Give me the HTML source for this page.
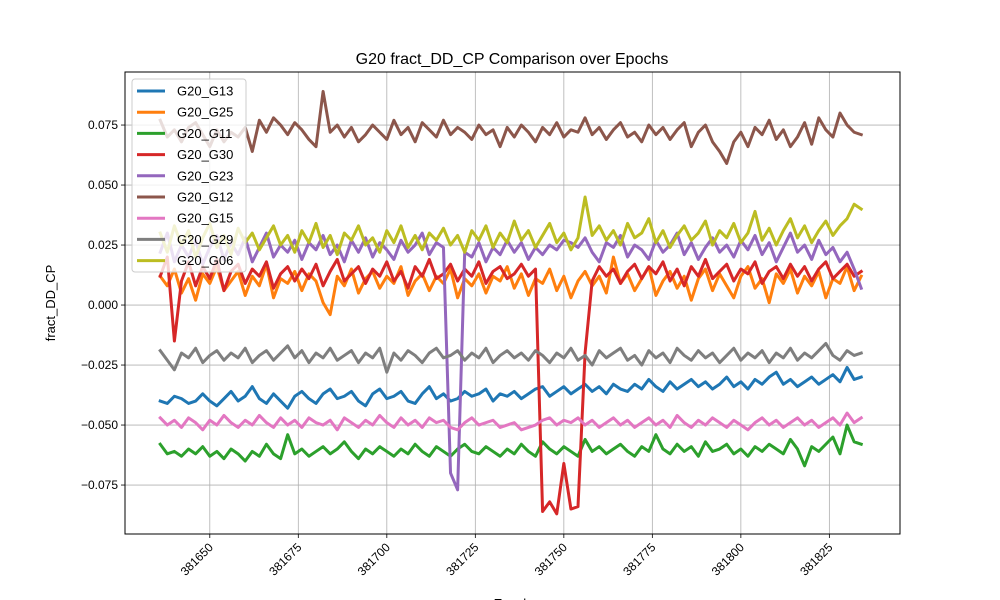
<!DOCTYPE html>
<html><head><meta charset="utf-8"><style>
html,body{margin:0;padding:0;background:#fff;}
svg{display:block;font-family:"Liberation Sans","DejaVu Sans",sans-serif;}
</style></head><body>
<svg id="chart" width="1000" height="600" viewBox="0 0 1000 600" xmlns="http://www.w3.org/2000/svg">
<rect width="1000" height="600" fill="#fff"/>
<g id="grid"></g>
<g id="series"></g>
<rect x="125" y="72" width="775" height="462" fill="none" stroke="#000" stroke-width="1"/>
<g id="xticks"></g>
<g id="yticks"></g>
<text x="512" y="64" text-anchor="middle" font-size="16">G20 fract_DD_CP Comparison over Epochs</text>
<text x="55" y="303" text-anchor="middle" font-size="13" transform="rotate(-90 55 303)">fract_DD_CP</text>
<text x="512" y="608" text-anchor="middle" font-size="13">Epoch</text>
<g id="legend"></g>
</svg>
<script>
const epochs = [381636,381638,381640,381642,381644,381646,381648,381650,381652,381654,
381656,381658,381660,381662,381664,381666,381668,381670,381672,381674,
381676,381678,381680,381682,381684,381686,381688,381690,381692,381694,
381696,381698,381700,381702,381704,381706,381708,381710,381712,381714,
381716,381718,381720,381722,381724,381726,381728,381730,381732,381734,
381736,381738,381740,381742,381744,381746,381748,381750,381752,381754,
381756,381758,381760,381762,381764,381766,381768,381770,381772,381774,
381776,381778,381780,381782,381784,381786,381788,381790,381792,381794,
381796,381798,381800,381802,381804,381806,381808,381810,381812,381814,
381816,381818,381820,381822,381824,381826,381828,381830,381832,381834];
const seriesNames = ["G20_G13","G20_G25","G20_G11","G20_G30","G20_G23","G20_G12","G20_G15","G20_G29","G20_G06"];
const xTickValues = [381650,381675,381700,381725,381750,381775,381800,381825];
const yTickValues = [-0.075,-0.050,-0.025,0.000,0.025,0.050,0.075];
const yTickLabels = ["\u22120.075","\u22120.050","\u22120.025","0.000","0.025","0.050","0.075"];
const g13 = [-0.040,-0.041,-0.038,-0.039,-0.041,-0.040,-0.037,-0.040,-0.042,-0.039,
-0.036,-0.040,-0.038,-0.034,-0.039,-0.041,-0.037,-0.040,-0.043,-0.038,
-0.036,-0.039,-0.041,-0.037,-0.035,-0.039,-0.038,-0.036,-0.040,-0.042,
-0.037,-0.035,-0.039,-0.038,-0.036,-0.040,-0.041,-0.037,-0.034,-0.039,
-0.037,-0.040,-0.039,-0.036,-0.038,-0.037,-0.035,-0.040,-0.037,-0.038,
-0.036,-0.039,-0.037,-0.035,-0.034,-0.038,-0.036,-0.034,-0.037,-0.035,
-0.033,-0.036,-0.034,-0.037,-0.033,-0.035,-0.036,-0.033,-0.035,-0.031,
-0.034,-0.036,-0.032,-0.035,-0.033,-0.031,-0.034,-0.032,-0.035,-0.033,
-0.030,-0.034,-0.032,-0.035,-0.031,-0.033,-0.030,-0.028,-0.033,-0.031,
-0.034,-0.032,-0.030,-0.033,-0.031,-0.029,-0.032,-0.026,-0.031,-0.030];
const g25 = [0.012,0.008,0.015,0.005,0.011,0.002,0.013,0.009,0.016,0.006,
0.010,0.014,0.004,0.012,0.008,0.017,0.003,0.011,0.009,0.014,
0.006,0.013,0.010,0.001,-0.004,0.012,0.008,0.015,0.005,0.011,
0.014,0.007,0.012,0.009,0.016,0.004,0.010,0.013,0.006,0.012,
0.009,0.015,0.003,0.011,0.008,0.013,0.005,0.012,0.010,0.016,
0.007,0.013,0.004,0.011,0.009,0.015,0.006,0.012,0.003,0.010,
0.014,0.008,0.012,0.005,0.020,0.009,0.013,0.006,0.011,0.016,
0.004,0.010,0.014,0.007,0.012,0.002,0.011,0.015,0.006,0.013,
0.008,0.003,0.012,0.016,0.007,0.011,0.001,0.013,0.009,0.015,
0.005,0.012,0.008,0.014,0.003,0.011,0.009,0.016,0.006,0.012];
const g11 = [-0.058,-0.062,-0.061,-0.063,-0.060,-0.062,-0.059,-0.063,-0.061,-0.064,
-0.060,-0.062,-0.065,-0.061,-0.063,-0.058,-0.062,-0.064,-0.054,-0.062,
-0.060,-0.063,-0.061,-0.059,-0.062,-0.060,-0.057,-0.061,-0.064,-0.060,
-0.062,-0.059,-0.061,-0.063,-0.060,-0.062,-0.058,-0.061,-0.063,-0.059,
-0.061,-0.063,-0.060,-0.058,-0.061,-0.062,-0.059,-0.061,-0.063,-0.060,
-0.062,-0.058,-0.061,-0.063,-0.057,-0.060,-0.062,-0.059,-0.061,-0.063,
-0.056,-0.061,-0.059,-0.062,-0.060,-0.058,-0.061,-0.063,-0.059,-0.061,
-0.054,-0.060,-0.062,-0.058,-0.061,-0.059,-0.063,-0.057,-0.061,-0.060,
-0.058,-0.062,-0.060,-0.063,-0.059,-0.061,-0.058,-0.060,-0.062,-0.056,
-0.060,-0.067,-0.059,-0.061,-0.058,-0.055,-0.062,-0.050,-0.057,-0.058];
const g30 = [0.012,0.020,-0.015,0.010,0.018,0.008,0.016,0.011,0.019,0.006,
0.014,0.017,0.009,0.015,0.012,0.018,0.007,0.013,0.016,0.010,
0.015,0.011,0.017,0.008,0.014,0.019,0.010,0.013,0.016,0.009,
0.015,0.012,0.018,0.010,0.014,0.007,0.016,0.012,0.019,0.011,
0.013,0.017,0.010,0.015,0.012,0.018,0.009,0.014,0.016,0.011,
0.013,0.017,0.012,0.015,-0.086,-0.082,-0.087,-0.066,-0.085,-0.084,
-0.020,0.010,0.016,0.012,0.015,0.009,0.014,0.017,0.011,0.016,
0.013,0.018,0.010,0.015,0.008,0.016,0.012,0.019,0.011,0.014,
0.017,0.010,0.015,0.013,0.018,0.009,0.014,0.016,0.011,0.017,
0.012,0.016,0.010,0.015,0.018,0.011,0.014,0.017,0.012,0.014];
const g23 = [0.022,0.030,0.018,0.025,0.020,0.027,0.017,0.024,0.029,0.019,
0.026,0.021,0.028,0.018,0.024,0.030,0.020,0.025,0.022,0.027,
0.019,0.026,0.023,0.029,0.021,0.025,0.018,0.027,0.022,0.028,
0.020,0.026,0.023,0.019,0.027,0.022,0.025,0.030,0.021,0.026,
0.024,-0.070,-0.077,0.022,0.020,0.026,0.018,0.024,0.021,0.027,
0.022,0.026,0.019,0.024,0.021,0.025,0.023,0.027,0.026,0.024,
0.028,0.022,0.018,0.026,0.024,0.029,0.020,0.025,0.023,0.019,
0.027,0.022,0.025,0.030,0.021,0.026,0.019,0.024,0.028,0.022,
0.025,0.020,0.027,0.023,0.029,0.021,0.026,0.018,0.024,0.030,
0.022,0.025,0.019,0.027,0.021,0.024,0.018,0.022,0.015,0.007];
const g12 = [0.077,0.070,0.073,0.068,0.074,0.076,0.071,0.066,0.073,0.068,
0.072,0.070,0.074,0.064,0.077,0.072,0.078,0.075,0.071,0.076,
0.073,0.069,0.066,0.089,0.072,0.075,0.070,0.074,0.068,0.071,
0.075,0.072,0.069,0.077,0.071,0.074,0.068,0.076,0.073,0.070,
0.077,0.071,0.074,0.072,0.069,0.075,0.071,0.073,0.066,0.074,
0.070,0.075,0.072,0.068,0.074,0.071,0.076,0.070,0.073,0.072,
0.078,0.071,0.074,0.069,0.073,0.076,0.070,0.072,0.068,0.075,
0.071,0.074,0.069,0.073,0.076,0.066,0.072,0.075,0.068,0.064,
0.059,0.068,0.072,0.066,0.074,0.071,0.077,0.069,0.073,0.066,
0.070,0.076,0.067,0.078,0.073,0.070,0.080,0.075,0.072,0.071];
const g15 = [-0.047,-0.050,-0.048,-0.051,-0.047,-0.049,-0.052,-0.048,-0.050,-0.046,
-0.049,-0.051,-0.048,-0.050,-0.046,-0.049,-0.051,-0.047,-0.050,-0.048,
-0.051,-0.047,-0.049,-0.050,-0.048,-0.052,-0.047,-0.049,-0.051,-0.048,
-0.050,-0.046,-0.049,-0.051,-0.047,-0.050,-0.048,-0.051,-0.047,-0.049,
-0.048,-0.051,-0.052,-0.049,-0.047,-0.050,-0.049,-0.048,-0.051,-0.050,
-0.049,-0.052,-0.051,-0.050,-0.048,-0.047,-0.050,-0.048,-0.049,-0.047,
-0.050,-0.048,-0.051,-0.049,-0.047,-0.050,-0.048,-0.051,-0.049,-0.047,
-0.050,-0.048,-0.051,-0.046,-0.049,-0.051,-0.048,-0.050,-0.047,-0.049,
-0.051,-0.048,-0.050,-0.052,-0.049,-0.047,-0.050,-0.048,-0.051,-0.049,
-0.047,-0.050,-0.048,-0.051,-0.049,-0.047,-0.050,-0.045,-0.049,-0.047];
const g29 = [-0.019,-0.023,-0.027,-0.020,-0.022,-0.018,-0.024,-0.021,-0.019,-0.023,
-0.020,-0.022,-0.018,-0.024,-0.021,-0.019,-0.023,-0.020,-0.017,-0.022,
-0.019,-0.024,-0.020,-0.022,-0.018,-0.023,-0.021,-0.019,-0.024,-0.020,
-0.022,-0.018,-0.028,-0.020,-0.023,-0.019,-0.021,-0.024,-0.020,-0.018,
-0.022,-0.021,-0.019,-0.023,-0.020,-0.022,-0.018,-0.024,-0.021,-0.019,
-0.022,-0.020,-0.023,-0.019,-0.021,-0.024,-0.020,-0.022,-0.018,-0.023,
-0.021,-0.025,-0.019,-0.022,-0.020,-0.018,-0.023,-0.021,-0.025,-0.019,
-0.022,-0.020,-0.024,-0.018,-0.021,-0.023,-0.019,-0.022,-0.020,-0.024,
-0.021,-0.018,-0.023,-0.020,-0.022,-0.019,-0.024,-0.020,-0.022,-0.018,
-0.023,-0.020,-0.022,-0.019,-0.016,-0.021,-0.023,-0.019,-0.021,-0.020];
const g06 = [0.030,0.022,0.033,0.025,0.031,0.020,0.028,0.034,0.024,0.029,
0.021,0.032,0.026,0.030,0.023,0.028,0.033,0.025,0.029,0.022,
0.031,0.026,0.034,0.024,0.029,0.021,0.030,0.027,0.033,0.025,
0.028,0.022,0.031,0.026,0.033,0.024,0.029,0.023,0.030,0.027,
0.032,0.025,0.029,0.022,0.031,0.027,0.033,0.024,0.030,0.026,
0.035,0.027,0.031,0.024,0.029,0.034,0.026,0.030,0.023,0.028,
0.045,0.029,0.033,0.027,0.031,0.025,0.034,0.028,0.030,0.036,
0.026,0.031,0.024,0.029,0.033,0.027,0.030,0.035,0.025,0.031,
0.028,0.034,0.026,0.030,0.039,0.027,0.032,0.025,0.031,0.036,
0.028,0.033,0.026,0.031,0.035,0.029,0.033,0.036,0.042,0.040];

const seriesValues = [g13,g25,g11,g30,g23,g12,g15,g29,g06];
const colors = ["#1f77b4","#ff7f0e","#2ca02c","#d62728","#9467bd","#8c564b","#e377c2","#7f7f7f","#bcbd22"];
const NS = "http://www.w3.org/2000/svg";
const L=125,R=900,T=72,B=534;
const xMin=381626.05, xMax=381844.95, yMin=-0.0954, yMax=0.0971;
function xs(v){return L+(v-xMin)/(xMax-xMin)*(R-L);}
function ys(v){return B-(v-yMin)/(yMax-yMin)*(B-T);}
function mk(tag,attrs,parent){const e=document.createElementNS(NS,tag);for(const k in attrs)e.setAttribute(k,attrs[k]);parent.appendChild(e);return e;}

const grid=document.getElementById('grid'), xt=document.getElementById('xticks'), yt=document.getElementById('yticks');
xTickValues.forEach(v=>{
  const x=xs(v);
  const gl=mk('line',{x1:x,x2:x,y1:T,y2:B,stroke:'#b0b0b0','stroke-width':0.8},grid);
  
  
  const tk=mk('line',{x1:x,x2:x,y1:B,y2:B+4,stroke:'#000','stroke-width':0.8},xt);
  
  
  const t=mk('text',{x:x+4,y:B+14,'font-size':12,'text-anchor':'end',transform:`rotate(-45 ${x+4} ${B+14})`},xt);
  t.textContent=String(v);
  
  
});
yTickValues.forEach((v,i)=>{
  const y=ys(v);
  const gl=mk('line',{x1:L,x2:R,y1:y,y2:y,stroke:'#b0b0b0','stroke-width':0.8},grid);
  
  
  const tk=mk('line',{x1:L-4,x2:L,y1:y,y2:y,stroke:'#000','stroke-width':0.8},yt);
  
  
  const t=mk('text',{x:L-7,y:y+4,'font-size':12,'text-anchor':'end'},yt);
  t.textContent=yTickLabels[i];
  
  
});

const sg=document.getElementById('series');
seriesValues.forEach((vals,si)=>{
  const n=Math.min(vals.length,epochs.length);
  let d='';
  for(let i=0;i<n;i++){d+=(i?'L':'M')+xs(epochs[i]).toFixed(2)+','+ys(vals[i]).toFixed(2);}
  const p=mk('path',{d:d,fill:'none',stroke:colors[si],'stroke-width':3,'stroke-linejoin':'round','stroke-linecap':'square'},sg);
  
  
});

const lg=document.getElementById('legend');
const box=mk('rect',{x:132,y:79,width:114,height:193,rx:3,fill:'#fff','fill-opacity':0.8,stroke:'#ccc','stroke-width':1},lg);


seriesNames.forEach((nm,i)=>{
  const y=91+i*21.2;
  const g=mk('g',{},lg);
  
  
  mk('line',{x1:137,x2:165,y1:y,y2:y,stroke:colors[i],'stroke-width':3},g);
  const t=mk('text',{x:177,y:y+4.5,'font-size':13},g);
  t.textContent=nm;
});
</script>
</body></html>
